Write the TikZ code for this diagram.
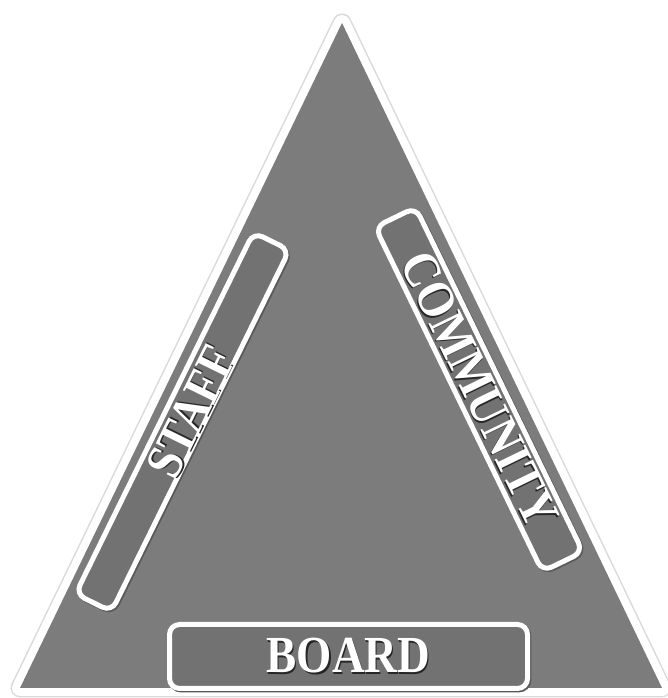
\documentclass[tikz,border=0pt]{standalone}
\usepackage{fontspec}
\usepackage{graphicx}
\setmainfont{Liberation Serif}
\usetikzlibrary{shadows}
\definecolor{trigray}{RGB}{124,124,124}
\definecolor{boxgray}{RGB}{114,114,114}
\definecolor{rimgray}{RGB}{218,218,218}
\newcommand{\embossed}[1]{\scalebox{0.87}[1]{\leavevmode\rlap{\kern1.3pt\raisebox{-1.3pt}{\textcolor{black!85}{#1}}}\textcolor{white}{#1}}}
\begin{document}
\begin{tikzpicture}[x=1pt,y=1pt,
  labelbox/.style={rectangle, draw=white, line width=5pt, fill=boxgray,
    rounded corners=10pt, inner sep=0pt,
    general shadow={shadow xshift=1.4pt, shadow yshift=-1.4pt, fill=none, draw=black!65, line width=5pt}},
  labeltext/.style={inner sep=0pt, font=\fontsize{52}{52}\selectfont\bfseries}
]
\useasboundingbox (0,0) rectangle (668,698);
\fill[white] (0,0) rectangle (668,698);
% triangle corners
\coordinate (apex) at (342,675);
\coordinate (bl) at (20,10);
\coordinate (br) at (662,10);
\draw[rimgray, line width=19pt, line join=round] (apex) -- (bl) -- (br) -- cycle;
\draw[white, line width=16pt, line join=round] (apex) -- (bl) -- (br) -- cycle;
\fill[trigray] (apex) -- (bl) -- (br) -- cycle;
% boxes
\node[labelbox, minimum width=403pt, minimum height=40pt, rotate=63.8] (staff) at (182.5,276) {};
\node[labelbox, minimum width=383pt, minimum height=45pt, rotate=-64.1] (community) at (479,308.5) {};
\node[labelbox, minimum width=358pt, minimum height=64pt] (board) at (348.5,41.5) {};
% labels
\node[labeltext, rotate=63.8] (stafftxt) at (192,286) {\embossed{STAFF}};
\node[labeltext, rotate=-64.1] (communitytxt) at (community.center) {\embossed{COMMUNITY}};
\node[labeltext] (boardtxt) at (board.center) {\embossed{BOARD}};
\end{tikzpicture}
\end{document}
